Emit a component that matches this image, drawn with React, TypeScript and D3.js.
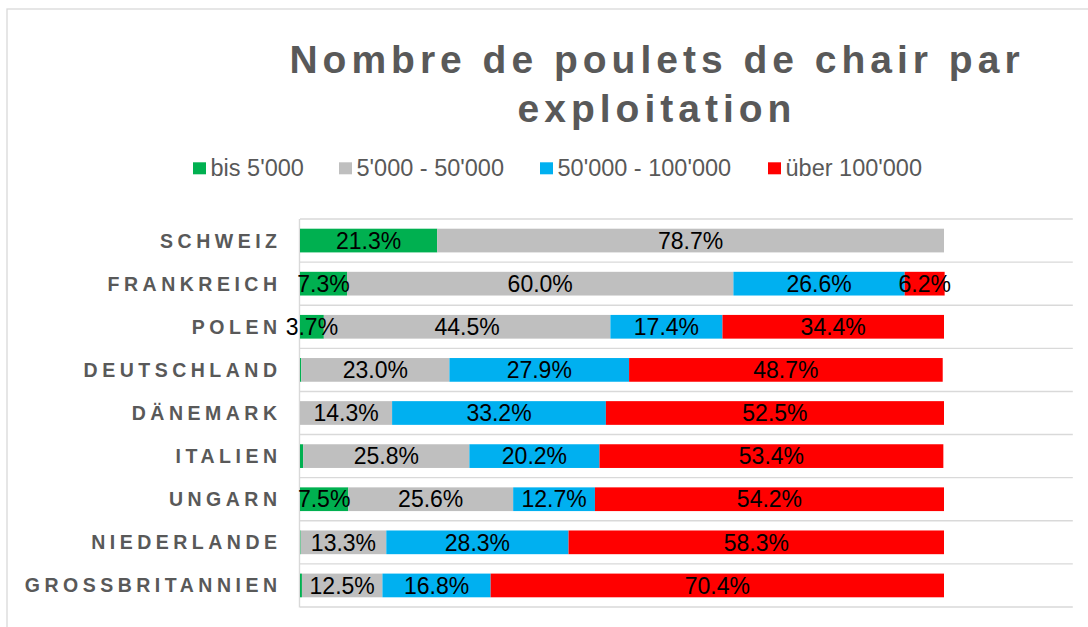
import React from "react";
import * as d3 from "d3";

const categories = [
  "SCHWEIZ",
  "FRANKREICH",
  "POLEN",
  "DEUTSCHLAND",
  "DÄNEMARK",
  "ITALIEN",
  "UNGARN",
  "NIEDERLANDE",
  "GROSSBRITANNIEN",
];

const seriesNames = ["bis 5'000", "5'000 - 50'000", "50'000 - 100'000", "über 100'000"];
const seriesColors = ["#00B050", "#BFBFBF", "#00B0F0", "#FF0000"];

const bis5000 = [21.3, 7.3, 3.7, 0.2, 0, 0.5, 7.5, 0.1, 0.3];
const s5000to50000 = [78.7, 60.0, 44.5, 23.0, 14.3, 25.8, 25.6, 13.3, 12.5];
const s50000to100000 = [0, 26.6, 17.4, 27.9, 33.2, 20.2, 12.7, 28.3, 16.8];
const ueber100000 = [0, 6.2, 34.4, 48.7, 52.5, 53.4, 54.2, 58.3, 70.4];

const seriesValues = [bis5000, s5000to50000, s50000to100000, ueber100000];

const titleLines = ["Nombre de poulets de chair par", "exploitation"];

const FONT = "'Liberation Sans', Arial, Helvetica, sans-serif";
const W = 1088;
const H = 627;

export default function App() {
  const x = d3.scaleLinear().domain([0, 120]).range([300, 1072.8]);
  const y = d3.scaleBand<string>().domain(categories).range([219, 607]).padding(0);
  const barH = y.bandwidth() * 0.55;

  const rows = categories.map((c, i) => {
    const obj: any = { cat: c };
    seriesNames.forEach((s, j) => (obj[s] = seriesValues[j][i]));
    return obj;
  });
  const stacked = d3.stack<any>().keys(seriesNames)(rows);

  const gridYs = categories.map((c) => y(c) as number).concat([607]);

  const legendX = [193, 339, 540, 768];

  const catLs = 4.5;
  const titleLs = 5;

  return (
    <svg
      width={W}
      height={H}
      style={{ position: "absolute", left: 0, top: 0, background: "#fff" }}
      fontFamily={FONT}
    >
      <rect x={7} y={9} width={W + 10} height={H + 10} fill="#fff" stroke="#D9D9D9" strokeWidth={1.3} />

      {titleLines.map((t, i) => (
        <text
          key={t}
          x={654.5 + titleLs / 2}
          y={73 + i * 48.5}
          textAnchor="middle"
          fontSize={39}
          fontWeight="bold"
          fill="#595959"
          letterSpacing={titleLs}
        >
          {t}
        </text>
      ))}

      {seriesNames.map((s, i) => (
        <g key={s}>
          <rect x={legendX[i]} y={162.3} width={13} height={12} fill={seriesColors[i]} />
          <text x={legendX[i] + 17.5} y={175.5} fontSize={23.5} fill="#595959">
            {s}
          </text>
        </g>
      ))}

      {gridYs.map((gy, i) => (
        <line key={i} x1={300} x2={1072.8} y1={gy} y2={gy} stroke="#D9D9D9" strokeWidth={1.4} />
      ))}
      <line x1={299.5} x2={299.5} y1={219} y2={607.5} stroke="#D9D9D9" strokeWidth={1.4} />

      {stacked.map((layer, j) => (
        <g key={seriesNames[j]} fill={seriesColors[j]}>
          {layer.map((d, i) => {
            const c = categories[i];
            const yc = (y(c) as number) + y.bandwidth() / 2;
            return (
              <rect
                key={c}
                x={x(d[0])}
                width={Math.max(0, x(d[1]) - x(d[0]))}
                y={yc - barH / 2}
                height={barH}
              />
            );
          })}
        </g>
      ))}

      {stacked.map((layer, j) => (
        <g key={"l" + seriesNames[j]}>
          {layer.map((d, i) => {
            const v = seriesValues[j][i];
            if (v < 1) return null;
            const c = categories[i];
            const yc = (y(c) as number) + y.bandwidth() / 2;
            return (
              <text
                key={c}
                x={(x(d[0]) + x(d[1])) / 2}
                y={yc + 8.2}
                textAnchor="middle"
                fontSize={23}
                fill="#000"
              >
                {v.toFixed(1) + "%"}
              </text>
            );
          })}
        </g>
      ))}

      {categories.map((c) => {
        const yc = (y(c) as number) + y.bandwidth() / 2;
        return (
          <text
            key={c}
            x={277 + catLs}
            y={yc + 7}
            textAnchor="end"
            fontSize={19.5}
            fontWeight="bold"
            fill="#595959"
            letterSpacing={catLs}
          >
            {c}
          </text>
        );
      })}
    </svg>
  );
}
